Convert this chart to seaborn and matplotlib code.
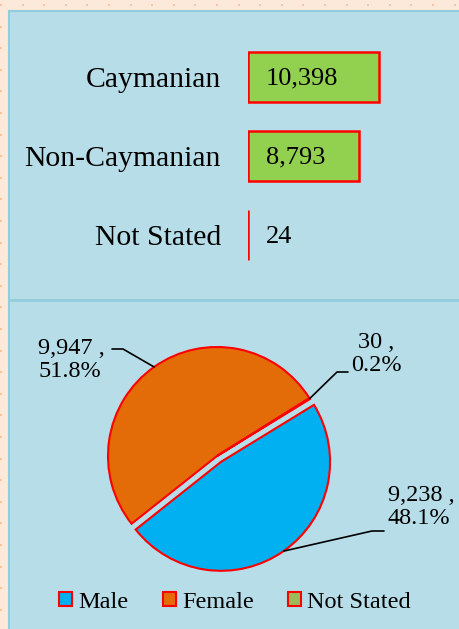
import numpy as np
import seaborn as sns
import matplotlib
matplotlib.use("Agg")
from matplotlib import pyplot as plt
from matplotlib.patches import Rectangle, Patch

# data
origin_cats = ["Caymanian", "Non-Caymanian", "Not Stated"]
origin_vals = [10398, 8793, 24]
origin_txt = ["10,398", "8,793", "24"]

sex_cats = ["Male", "Female", "Not Stated"]
sex_vals = [9238, 9947, 30]
sex_txt = ["9,238 ,\n48.1%", "9,947 ,\n51.8%", "30 ,\n0.2%"]

sns.set_style("white")
plt.rcParams['font.family'] = ['Liberation Serif', 'DejaVu Serif']
plt.rcParams['text.color'] = 'black'
plt.rcParams['ytick.color'] = 'black'

W, H = 460, 629
fig = plt.figure(figsize=(W / 100, H / 100), dpi=100, facecolor='#FDE9D9')


def px(x0, y0, x1, y1):
    # pixel box -> figure fraction rect
    return [x0 / W, 1 - y1 / H, (x1 - x0) / W, (y1 - y0) / H]


# background with dots + blue panel
bg = fig.add_axes([0, 0, 1, 1], zorder=-10)
bg.set_xlim(0, W)
bg.set_ylim(H, 0)
bg.axis('off')
gx, gy = np.meshgrid(np.arange(1, W, 21.6), np.arange(5, H, 21.6))
bg.scatter(gx.ravel(), gy.ravel(), s=4, marker='s', color='#FBC49A', lw=0)
bg.add_patch(Rectangle((9, 11), W, H, facecolor='#B7DDE8', edgecolor='#92CDDC', lw=1.5))
bg.plot([10, W], [300, 300], color='#92CDDC', lw=2)

# top: horizontal bars
ax = fig.add_axes(px(248, 37.5, 440, 275))
sns.barplot(x=origin_vals, y=origin_cats, orient='h', color='#92D050',
            edgecolor='#FF0000', linewidth=1.8, width=0.63, saturation=1, ax=ax)
ax.set_xlim(0, 15240)
ax.set_ylim(2.5, -0.5)
ax.set_facecolor('none')
sns.despine(ax=ax, left=True, bottom=True)
ax.set_xticks([])
ax.tick_params(axis='y', length=0, pad=19.5, labelsize=21.4, labelcolor='black')
ax.set_xlabel('')
ax.set_ylabel('')
for i, t in enumerate(origin_txt):
    ax.annotate(t, xy=(0, i), xytext=(13, -1), textcoords='offset points',
                ha='left', va='center', fontsize=19, color='black')

# bottom: pie
cx, cy, r = 217, 456, 109
pa = fig.add_axes(px(10, 305, 455, 580))
colors = ['#00B0F0', '#E36C09', '#9BBB59']
explode = [0.065, 0, 0]
wedges, _ = pa.pie(sex_vals, colors=colors, startangle=31.5, counterclock=False,
                   explode=explode, wedgeprops=dict(edgecolor='#FF0000', linewidth=1.5))
pa.set_aspect('auto')
pa.set_xlim((10 - cx) / r, (455 - cx) / r)
pa.set_ylim(-(580 - cy) / r, (cy - 305) / r)

# leader lines + labels (elbow / text offsets in pixels)
elbows = [((372, 531), (384, 531)), ((123, 349), (112, 349)), ((337, 372), (348, 372))]
text_pos = [(388, 507, 'left'), (38, 360, 'left'), (376, 354, 'center')]
for i, w in enumerate(wedges):
    ang = np.deg2rad((w.theta1 + w.theta2) / 2)
    ox, oy = w.center
    ex, ey = ox + np.cos(ang), oy + np.sin(ang)
    (bx, by), (tx, ty) = elbows[i]
    xs = [ex, (bx - cx) / r, (tx - cx) / r]
    ys = [ey, (cy - by) / r, (cy - ty) / r]
    pa.plot(xs, ys, color='black', lw=1.2, clip_on=False)
    lx, ly, ha = text_pos[i]
    pa.text((lx - cx) / r, (cy - ly) / r, sex_txt[i], ha=ha, va='center',
            multialignment=ha, fontsize=17.5, linespacing=1.1, color='black')

handles = [Patch(facecolor=c, edgecolor='#FF0000', lw=1.5) for c in colors]
fig.legend(handles, sex_cats, loc='center', bbox_to_anchor=(235 / W, 1 - 602 / H),
           ncol=3, frameon=False, fontsize=17.5, handlelength=0.55, handleheight=0.55,
           handletextpad=0.25, columnspacing=1.4, borderpad=0, labelcolor='black')

fig.savefig('out.png', dpi=100, facecolor=fig.get_facecolor())
